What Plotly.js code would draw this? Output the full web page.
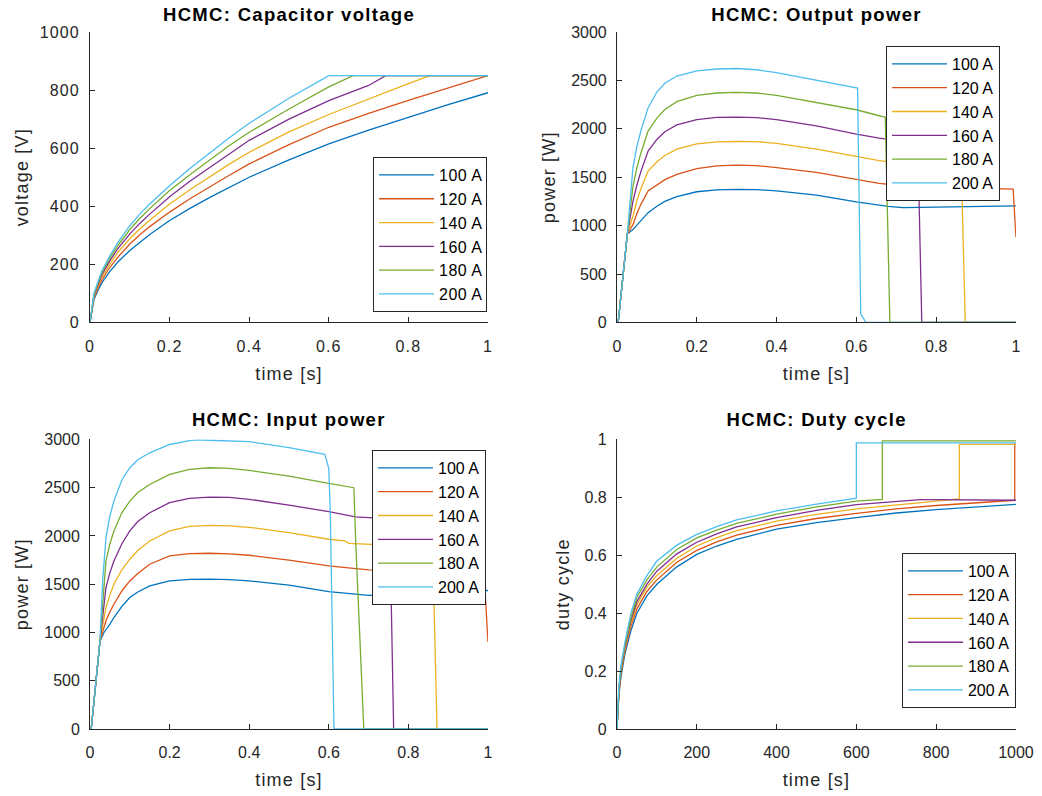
<!DOCTYPE html>
<html>
<head>
<meta charset="utf-8">
<script src="https://cdn.plot.ly/plotly-3.0.1.min.js"></script>
<style>
html,body{margin:0;padding:0;background:#fff;}
#chart{width:1042px;height:796px;}
#chart .xtick text, #chart .ytick text { letter-spacing: 1.1px; }
#chart text.xtitle, #chart text.x2title, #chart text.x3title, #chart text.x4title,
#chart text.ytitle, #chart text.y2title, #chart text.y3title, #chart text.y4title { letter-spacing: 1.2px; }
#chart .annotation-text { letter-spacing: 1.3px; }
#chart text.legendtext { letter-spacing: 0.5px; }
</style>
</head>
<body>
<div id="chart"></div>
<script>
// ---------- series labels & colours ----------
const seriesNames = ["100 A", "120 A", "140 A", "160 A", "180 A", "200 A"];
const seriesColors = ["#0072BD", "#D95319", "#EDB120", "#7E2F8E", "#77AC30", "#4DBEEE"];

// ---------- Capacitor voltage [V] vs time [s] ----------
const tVolt100 = [0, 0.01, 0.02, 0.03, 0.05, 0.07, 0.1, 0.125, 0.15, 0.2, 0.25, 0.3, 0.35, 0.4, 0.5, 0.6, 0.7, 0.8, 0.9, 1.0];
const volt100  = [0, 80, 110, 137, 176, 208, 248, 277, 303, 351, 392, 430, 466, 500, 560, 615, 662, 707, 750, 791];
const tVolt120 = [0, 0.01, 0.02, 0.03, 0.05, 0.07, 0.1, 0.125, 0.15, 0.2, 0.25, 0.3, 0.35, 0.4, 0.5, 0.6, 0.7, 0.8, 0.9, 1.0];
const volt120  = [0, 85, 118, 147, 190, 225, 270, 302, 330, 380, 425, 467, 507, 546, 612, 672, 720, 765, 808, 850];
const tVolt140 = [0, 0.01, 0.02, 0.03, 0.05, 0.07, 0.1, 0.125, 0.15, 0.2, 0.25, 0.3, 0.35, 0.4, 0.5, 0.6, 0.7, 0.8, 0.854, 1.0];
const volt140  = [0, 90, 125, 157, 202, 241, 288, 322, 352, 408, 456, 502, 545, 586, 656, 716, 770, 822, 850, 850];
const tVolt160 = [0, 0.01, 0.02, 0.03, 0.05, 0.07, 0.1, 0.125, 0.15, 0.2, 0.25, 0.3, 0.35, 0.4, 0.5, 0.6, 0.7, 0.743, 1.0];
const volt160  = [0, 94, 131, 165, 213, 254, 305, 341, 373, 433, 485, 533, 581, 627, 700, 764, 816, 850, 850];
const tVolt180 = [0, 0.01, 0.02, 0.03, 0.05, 0.07, 0.1, 0.125, 0.15, 0.2, 0.25, 0.3, 0.35, 0.4, 0.5, 0.6, 0.661, 1.0];
const volt180  = [0, 97, 136, 172, 222, 265, 320, 358, 392, 454, 508, 560, 609, 655, 735, 811, 850, 850];
const tVolt200 = [0, 0.01, 0.02, 0.03, 0.05, 0.07, 0.1, 0.125, 0.15, 0.2, 0.25, 0.3, 0.35, 0.4, 0.5, 0.6, 1.0];
const volt200  = [0, 100, 140, 178, 230, 276, 333, 373, 408, 471, 529, 583, 636, 686, 772, 850, 850];

// ---------- Output power [W] vs time [s] ----------
const tOut100 = [0, 0.003, 0.026, 0.032, 0.04, 0.05, 0.06, 0.078, 0.1, 0.12, 0.15, 0.2, 0.25, 0.3, 0.35, 0.4, 0.5, 0.6, 0.68, 0.716, 0.8, 0.9, 1.0];
const out100  = [0, 0, 914, 930, 960, 1005, 1050, 1134, 1200, 1250, 1300, 1350, 1370, 1375, 1372, 1360, 1315, 1246, 1200, 1187, 1192, 1198, 1205];
const tOut120 = [0, 0.003, 0.026, 0.04, 0.05, 0.06, 0.078, 0.1, 0.12, 0.15, 0.2, 0.25, 0.3, 0.35, 0.4, 0.5, 0.6, 0.657, 0.7, 0.8, 0.9, 0.993, 1.0];
const out120  = [0, 0, 914, 1010, 1125, 1220, 1358, 1420, 1475, 1530, 1590, 1618, 1625, 1620, 1600, 1550, 1480, 1436, 1420, 1400, 1388, 1377, 880];
const tOut140 = [0, 0.003, 0.026, 0.04, 0.05, 0.06, 0.078, 0.1, 0.12, 0.15, 0.2, 0.25, 0.3, 0.35, 0.4, 0.5, 0.6, 0.657, 0.7, 0.8, 0.863, 0.873, 1.0];
const out140  = [0, 0, 914, 1100, 1260, 1380, 1564, 1660, 1725, 1790, 1845, 1865, 1869, 1868, 1850, 1790, 1715, 1671, 1650, 1625, 1610, 0, 0];
const tOut160 = [0, 0.003, 0.026, 0.04, 0.05, 0.06, 0.078, 0.1, 0.12, 0.15, 0.2, 0.25, 0.3, 0.35, 0.4, 0.5, 0.6, 0.657, 0.7, 0.754, 0.764, 1.0];
const out160  = [0, 0, 914, 1250, 1420, 1560, 1770, 1890, 1970, 2040, 2095, 2118, 2121, 2115, 2095, 2030, 1945, 1903, 1880, 1855, 0, 0];
const tOut180 = [0, 0.003, 0.026, 0.04, 0.05, 0.06, 0.078, 0.1, 0.12, 0.15, 0.2, 0.25, 0.3, 0.35, 0.4, 0.5, 0.6, 0.657, 0.6725, 0.684, 1.0];
const out180  = [0, 0, 914, 1400, 1600, 1750, 1976, 2110, 2200, 2280, 2345, 2370, 2377, 2370, 2345, 2270, 2197, 2135, 2120, 0, 0];
const tOut200 = [0, 0.003, 0.026, 0.033, 0.04, 0.05, 0.06, 0.078, 0.1, 0.12, 0.15, 0.2, 0.25, 0.3, 0.35, 0.4, 0.5, 0.603, 0.611, 0.624, 1.0];
const out200  = [0, 0, 914, 1300, 1600, 1820, 1980, 2216, 2380, 2470, 2545, 2598, 2618, 2623, 2610, 2580, 2500, 2420, 90, 0, 0];

// ---------- Input power [W] vs time [s] ----------
const tIn100 = [0, 0.003, 0.025, 0.035, 0.05, 0.06, 0.08, 0.1, 0.12, 0.15, 0.2, 0.25, 0.3, 0.35, 0.4, 0.5, 0.6, 0.7, 0.8, 0.9, 1.0];
const in100  = [0, 0, 910, 1000, 1086, 1155, 1270, 1362, 1420, 1483, 1534, 1550, 1552, 1548, 1535, 1490, 1424, 1385, 1400, 1420, 1435];
const tIn120 = [0, 0.003, 0.025, 0.04, 0.05, 0.06, 0.08, 0.1, 0.12, 0.15, 0.2, 0.25, 0.3, 0.35, 0.4, 0.5, 0.6, 0.7, 0.8, 0.9, 0.99, 1.0];
const in120  = [0, 0, 910, 1121, 1215, 1293, 1430, 1534, 1610, 1707, 1793, 1818, 1821, 1815, 1800, 1750, 1690, 1648, 1640, 1638, 1638, 900];
const tIn140 = [0, 0.003, 0.025, 0.04, 0.05, 0.06, 0.08, 0.1, 0.12, 0.15, 0.2, 0.25, 0.3, 0.35, 0.4, 0.5, 0.6, 0.64, 0.65, 0.7, 0.8, 0.861, 0.872, 1.0];
const in140  = [0, 0, 910, 1259, 1390, 1500, 1650, 1759, 1850, 1948, 2052, 2100, 2110, 2105, 2090, 2035, 1966, 1950, 1924, 1914, 1898, 1885, 0, 0];
const tIn160 = [0, 0.003, 0.025, 0.04, 0.05, 0.06, 0.08, 0.1, 0.12, 0.15, 0.2, 0.25, 0.3, 0.35, 0.4, 0.5, 0.6, 0.667, 0.7, 0.753, 0.763, 1.0];
const in160  = [0, 0, 910, 1466, 1620, 1741, 1920, 2052, 2150, 2241, 2345, 2390, 2403, 2400, 2380, 2320, 2252, 2197, 2190, 2180, 0, 0];
const tIn180 = [0, 0.003, 0.025, 0.04, 0.05, 0.06, 0.08, 0.1, 0.12, 0.15, 0.2, 0.25, 0.3, 0.35, 0.4, 0.5, 0.6, 0.663, 0.668, 0.688, 1.0];
const in180  = [0, 0, 910, 1741, 1920, 2052, 2240, 2362, 2450, 2534, 2638, 2690, 2707, 2700, 2680, 2620, 2545, 2500, 1900, 0, 0];
const tIn200 = [0, 0.003, 0.025, 0.032, 0.04, 0.05, 0.06, 0.08, 0.1, 0.12, 0.15, 0.2, 0.25, 0.27, 0.3, 0.35, 0.4, 0.5, 0.59, 0.6, 0.604, 0.613, 1.0];
const in200  = [0, 0, 910, 1550, 1983, 2210, 2362, 2580, 2707, 2790, 2862, 2948, 2988, 2995, 2992, 2985, 2978, 2915, 2845, 2700, 2200, 0, 0];

// ---------- Duty cycle [-] vs time ----------
const tDuty100 = [0, 5, 10, 20, 35, 50, 75, 100, 150, 200, 250, 300, 400, 500, 600, 700, 800, 900, 1000];
const duty100  = [0, 0.12, 0.18, 0.26, 0.34, 0.40, 0.46, 0.50, 0.56, 0.603, 0.632, 0.655, 0.69, 0.713, 0.730, 0.746, 0.758, 0.768, 0.776];
const tDuty120 = [0, 5, 10, 20, 35, 50, 75, 100, 150, 200, 250, 300, 400, 500, 600, 700, 800, 900, 997, 997, 1000];
const duty120  = [0, 0.125, 0.19, 0.27, 0.355, 0.415, 0.475, 0.515, 0.576, 0.617, 0.646, 0.67, 0.703, 0.727, 0.745, 0.76, 0.772, 0.782, 0.79, 0.985, 0.985];
const tDuty140 = [0, 5, 10, 20, 35, 50, 75, 100, 150, 200, 250, 300, 400, 500, 600, 700, 800, 858, 858, 1000];
const duty140  = [0, 0.13, 0.20, 0.28, 0.365, 0.43, 0.49, 0.53, 0.59, 0.632, 0.661, 0.685, 0.718, 0.741, 0.76, 0.774, 0.786, 0.795, 0.983, 0.983];
const tDuty160 = [0, 5, 10, 20, 35, 50, 75, 100, 150, 200, 250, 300, 400, 500, 600, 700, 760, 800, 900, 1000];
const duty160  = [0, 0.135, 0.205, 0.285, 0.375, 0.44, 0.50, 0.545, 0.605, 0.645, 0.674, 0.698, 0.73, 0.755, 0.775, 0.787, 0.792, 0.792, 0.791, 0.790];
const tDuty180 = [0, 5, 10, 20, 35, 50, 75, 100, 150, 200, 250, 300, 400, 500, 600, 665, 665, 1000];
const duty180  = [0, 0.14, 0.21, 0.29, 0.385, 0.455, 0.515, 0.56, 0.62, 0.66, 0.687, 0.71, 0.742, 0.767, 0.787, 0.793, 0.995, 0.995];
const tDuty200 = [0, 5, 10, 20, 35, 50, 75, 100, 150, 200, 250, 300, 400, 500, 600, 600, 1000];
const duty200  = [0, 0.15, 0.22, 0.30, 0.40, 0.466, 0.53, 0.58, 0.635, 0.672, 0.699, 0.722, 0.753, 0.777, 0.797, 0.988, 0.988];

// ---------- build traces ----------
const voltX = [tVolt100, tVolt120, tVolt140, tVolt160, tVolt180, tVolt200];
const voltY = [volt100, volt120, volt140, volt160, volt180, volt200];
const outX = [tOut100, tOut120, tOut140, tOut160, tOut180, tOut200];
const outY = [out100, out120, out140, out160, out180, out200];
const inX = [tIn100, tIn120, tIn140, tIn160, tIn180, tIn200];
const inY = [in100, in120, in140, in160, in180, in200];
const dutyX = [tDuty100, tDuty120, tDuty140, tDuty160, tDuty180, tDuty200];
const dutyY = [duty100, duty120, duty140, duty160, duty180, duty200];

const panels = [
  {xs: voltX, ys: voltY, xa: "x", ya: "y", lg: "legend"},
  {xs: outX, ys: outY, xa: "x2", ya: "y2", lg: "legend2"},
  {xs: inX, ys: inY, xa: "x3", ya: "y3", lg: "legend3"},
  {xs: dutyX, ys: dutyY, xa: "x4", ya: "y4", lg: "legend4"}
];
const traces = [];
panels.forEach(p => {
  for (let i = 0; i < seriesNames.length; i++) {
    traces.push({
      type: "scatter", mode: "lines",
      x: p.xs[i], y: p.ys[i], name: seriesNames[i],
      xaxis: p.xa, yaxis: p.ya, legend: p.lg,
      line: {color: seriesColors[i], width: 1.3},
      hoverinfo: "skip"
    });
  }
});

const FONT = '"Liberation Sans", Arial, Helvetica, sans-serif';
const AX = "#262626";
function axis(extra) {
  return Object.assign({
    showline: true, linecolor: AX, linewidth: 1, mirror: false,
    ticks: "inside", ticklen: 5, tickwidth: 1, tickcolor: AX,
    showgrid: false, zeroline: false, fixedrange: true,
    tickfont: {family: FONT, size: 16, color: AX}
  }, extra);
}
function xtitle(t) { return {text: t, font: {family: FONT, size: 18, color: AX}, standoff: 13}; }
function ytitle(t) { return {text: t, font: {family: FONT, size: 18, color: AX}, standoff: 10}; }
function legendBox(x, y, xa, ya) {
  return {x: x, y: y, xanchor: xa, yanchor: ya, xref: "paper", yref: "paper",
    bgcolor: "#ffffff", bordercolor: AX, borderwidth: 1, itemwidth: 55,
    font: {family: FONT, size: 16, color: "#000000"}, tracegroupgap: 0};
}

const xL = [0.0864, 0.4683], xR = [0.5921, 0.9750];
const yT = [0.5949, 0.9598], yB = [0.0842, 0.4479];
const xs = {ticklabelstandoff: 9}, ys = {ticklabelstandoff: 6};

const layout = {
  width: 1042, height: 796,
  margin: {l: 0, r: 0, t: 0, b: 0},
  paper_bgcolor: "#ffffff", plot_bgcolor: "#ffffff",
  font: {family: FONT, color: AX},
  showlegend: true,
  xaxis:  axis(Object.assign({domain: xL, anchor: "y",  range: [0, 1], dtick: 0.2, tick0: 0, title: xtitle("time [s]")}, xs)),
  yaxis:  axis(Object.assign({domain: yT, anchor: "x",  range: [0, 1000], dtick: 200, tick0: 0, title: ytitle("voltage [V]")}, ys)),
  xaxis2: axis(Object.assign({domain: xR, anchor: "y2", range: [0, 1], dtick: 0.2, tick0: 0, title: xtitle("time [s]")}, xs)),
  yaxis2: axis(Object.assign({domain: yT, anchor: "x2", range: [0, 3000], dtick: 500, tick0: 0, title: ytitle("power [W]")}, ys)),
  xaxis3: axis(Object.assign({domain: xL, anchor: "y3", range: [0, 1], dtick: 0.2, tick0: 0, title: xtitle("time [s]")}, xs)),
  yaxis3: axis(Object.assign({domain: yB, anchor: "x3", range: [0, 3000], dtick: 500, tick0: 0, title: ytitle("power [W]")}, ys)),
  xaxis4: axis(Object.assign({domain: xR, anchor: "y4", range: [0, 1000], dtick: 200, tick0: 0, title: xtitle("time [s]")}, xs)),
  yaxis4: axis(Object.assign({domain: yB, anchor: "x4", range: [0, 1], dtick: 0.2, tick0: 0, title: ytitle("duty cycle")}, ys)),
  legend:  legendBox(0.4674, 0.608, "right", "bottom"),
  legend2: legendBox(0.9597, 0.9422, "right", "top"),
  legend3: legendBox(0.4664, 0.4347, "right", "top"),
  legend4: legendBox(0.975, 0.1106, "right", "bottom"),
  annotations: [
    {text: "<b>HCMC: Capacitor voltage</b>", x: (xL[0] + xL[1]) / 2, y: 1 - 15 / 796},
    {text: "<b>HCMC: Output power</b>", x: (xR[0] + xR[1]) / 2, y: 1 - 15 / 796},
    {text: "<b>HCMC: Input power</b>", x: (xL[0] + xL[1]) / 2, y: 1 - 420 / 796},
    {text: "<b>HCMC: Duty cycle</b>", x: (xR[0] + xR[1]) / 2, y: 1 - 420 / 796}
  ].map(a => Object.assign(a, {xref: "paper", yref: "paper", xanchor: "center", yanchor: "middle",
    showarrow: false, font: {family: FONT, size: 18.5, color: "#000000"}}))
};

Plotly.newPlot("chart", traces, layout, {displayModeBar: false, staticPlot: true});
</script>
</body>
</html>
